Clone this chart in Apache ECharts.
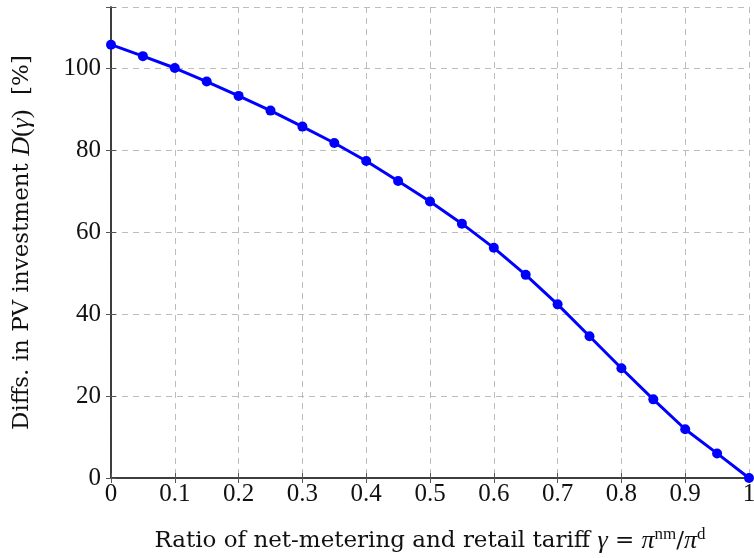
<!DOCTYPE html>
<html><head><meta charset="utf-8">
<script src="https://cdn.jsdelivr.net/npm/echarts@6/dist/echarts.min.js"></script>
<style>html,body{margin:0;padding:0;background:#fff}#c{width:754px;height:558px}</style>
</head><body><div id="c"></div>
<script>
const gammaValues = [0,0.05,0.1,0.15,0.2,0.25,0.3,0.35,0.4,0.45,0.5,0.55,0.6,0.65,0.7,0.75,0.8,0.85,0.9,0.95,1.0];
const diffValues = [105.8,103.0,100.1,96.8,93.3,89.7,85.8,81.8,77.4,72.5,67.5,62.1,56.2,49.6,42.4,34.6,26.8,19.2,11.9,6.0,0];
const xTicks = [0,0.1,0.2,0.3,0.4,0.5,0.6,0.7,0.8,0.9,1];
const yTicks = [0,20,40,60,80,100];

const serif = "'Liberation Serif', 'DejaVu Serif', serif";
const chart = echarts.init(document.getElementById('c'), null, {renderer:'canvas'});
const gridLine = {show:true, lineStyle:{color:'#bdbdbd', type:[6,5], width:1}};
const axisLine = {show:true, lineStyle:{color:'#333', width:1.5}};
const tick = {show:true, inside:true, length:5, lineStyle:{color:'#555'}};
chart.setOption({
  animation:false,
  grid:{left:111, right:5, top:7, bottom:80, containLabel:false, outerBoundsMode:'none'},
  xAxis:[{
    type:'value', min:0, max:1, interval:0.1,
    axisLine:axisLine, axisTick:tick,
    splitLine:gridLine,
    axisLabel:{fontFamily:serif, fontSize:25, color:'#111', margin:4,
      formatter:v=>{const r=Math.round(v*10)/10; return xTicks.includes(r)? String(r):'';}},
    name:'{t|Ratio of net-metering and retail tariff }{i|γ}{t| = }{i|π}{s|nm}{t|/}{i|π}{s|d}',
    nameLocation:'middle', nameGap:48,
    nameTextStyle:{rich:{
      t:{fontFamily:"'DejaVu Serif', serif", fontSize:23, color:'#111'},
      i:{fontFamily:serif, fontStyle:'italic', fontSize:26, color:'#111'},
      s:{fontFamily:serif, fontSize:17, color:'#111', verticalAlign:'bottom', padding:[0,0,14,0]}
    }}
  },{
    type:'value', min:0, max:1, interval:0.1, position:'top',
    axisLine:axisLine, axisLabel:{show:false}, axisTick:tick,
    splitLine:{show:false}
  }],
  yAxis:[{
    type:'value', min:0, max:115, interval:20,
    axisLine:axisLine, axisTick:tick,
    splitLine:gridLine,
    axisLabel:{fontFamily:serif, fontSize:25, color:'#111', margin:10,
      formatter:v=> yTicks.includes(v)? String(v):''},
    name:'{t|Diffs. in PV investment }{i|D}{m|(}{i|γ}{m|)}{t|  [%]}',
    nameLocation:'middle', nameGap:76, nameRotate:90,
    nameTextStyle:{rich:{
      t:{fontFamily:"'DejaVu Serif', serif", fontSize:23, color:'#111'},
      m:{fontFamily:serif, fontSize:26, color:'#111'},
      i:{fontFamily:serif, fontStyle:'italic', fontSize:26, color:'#111'}
    }}
  },{
    type:'value', min:0, max:115, interval:20, position:'right',
    axisLine:axisLine, axisLabel:{show:false}, axisTick:tick,
    splitLine:{show:false}
  }],
  series:[{
    type:'line',
    data:gammaValues.map((g,i)=>[g,diffValues[i]]),
    symbol:'circle', symbolSize:10,
    lineStyle:{color:'#0000ff', width:3},
    itemStyle:{color:'#0000ff'},
    clip:false
  }]
});
</script></body></html>
